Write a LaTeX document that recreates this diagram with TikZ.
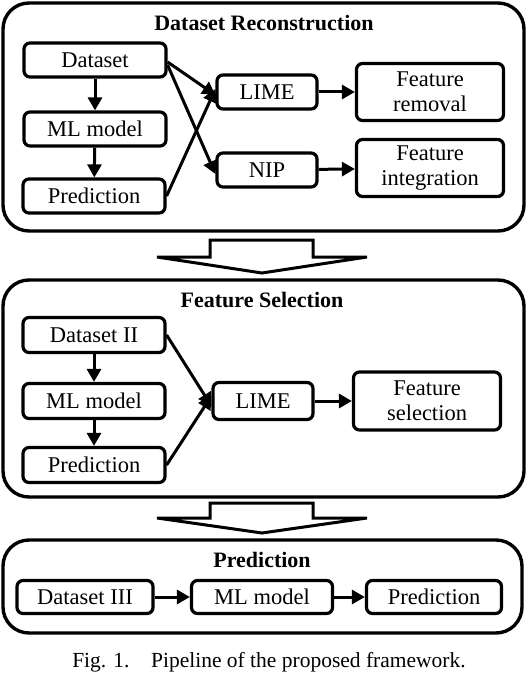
\documentclass[tikz,border=0pt]{standalone}
\usepackage{fontspec}
\setmainfont{Liberation Serif}
\usetikzlibrary{arrows.meta}
\tikzset{
  box/.style={draw, line width=3.2pt, rounded corners=6pt, inner sep=0pt, align=center,
    font=\fontsize{22.5}{25}\selectfont},
  frame/.style={draw, line width=3.4pt, rounded corners=26pt},
  ttl/.style={font=\fontsize{22}{24}\selectfont\bfseries},
  arr/.style={line width=3pt, -{Triangle[length=13pt,width=14pt]}},
  bigarr/.style={draw, line width=3pt, line join=miter}
}
\begin{document}
\begin{tikzpicture}[x=1pt,y=-1pt]
\useasboundingbox (0,0) rectangle (528,674);
% frames
\draw[frame] (3,3) rectangle (524,231);
\draw[frame] (3,280) rectangle (524,497);
\draw[frame] (3,540) rectangle (522,633);
% titles
\node[ttl] (t1) at (264,23) {Dataset Reconstruction};
\node[ttl] (t2) at (262,300) {Feature Selection};
\node[ttl] (t3) at (262,560) {Prediction};
% section 1
\node[box, minimum width=142pt, minimum height=34pt] (d1) at (95,60) {Dataset};
\node[box, minimum width=142pt, minimum height=34pt] (m1) at (95,129) {ML model};
\node[box, minimum width=142pt, minimum height=34pt] (p1) at (94,196) {Prediction};
\node[box, minimum width=100pt, minimum height=34pt] (lime1) at (267,92) {LIME};
\node[box, minimum width=100pt, minimum height=34pt] (nip) at (267,170) {NIP};
\node[box, minimum width=147pt, minimum height=57pt] (fr) at (430,92) {Feature\\removal};
\node[box, minimum width=147pt, minimum height=57pt] (fi) at (430,168) {Feature\\integration};
\draw[arr] (d1) -- (m1);
\draw[arr] (m1) -- (p1);
\draw[arr] (d1.east) ++(0,2) -- ([yshift=-3pt]lime1.west);
\draw[arr] (d1.east) ++(0,5) -- ([yshift=-4pt]nip.west);
\draw[arr] (p1.east) -- ([yshift=3pt]lime1.west);
\draw[arr] (lime1) -- (fr);
\draw[arr] (nip) -- (fi);
% big arrow 1
\draw[bigarr] (210,257) -- (210,240) -- (313,240) -- (313,257) -- (367,257) -- (262,273) -- (157,257) -- cycle;
% section 2
\node[box, minimum width=142pt, minimum height=35pt] (d2) at (94,335) {Dataset II};
\node[box, minimum width=142pt, minimum height=35pt] (m2) at (94,401) {ML model};
\node[box, minimum width=142pt, minimum height=35pt] (p2) at (94,465) {Prediction};
\node[box, minimum width=100pt, minimum height=37pt] (lime2) at (263,401) {LIME};
\node[box, minimum width=147pt, minimum height=58pt] (fs) at (427,401) {Feature\\selection};
\draw[arr] (d2) -- (m2);
\draw[arr] (m2) -- (p2);
\draw[arr] (d2.east) -- ([yshift=-5pt]lime2.west);
\draw[arr] (p2.east) -- ([yshift=5pt]lime2.west);
\draw[arr] (lime2) -- (fs);
% big arrow 2
\draw[bigarr] (210,518) -- (210,503) -- (313,503) -- (313,518) -- (367,518) -- (262,533) -- (157,518) -- cycle;
% section 3
\node[box, minimum width=136pt, minimum height=33pt] (d3) at (85,597) {Dataset III};
\node[box, minimum width=141pt, minimum height=33pt] (m3) at (262,597) {ML model};
\node[box, minimum width=135pt, minimum height=33pt] (p3) at (434,597) {Prediction};
\draw[arr] (d3) -- (m3);
\draw[arr] (m3) -- (p3);
% caption
\node[font=\fontsize{21.5}{23}\selectfont] (cap) at (269,662) {Fig. 1.\quad Pipeline of the proposed framework.};
\end{tikzpicture}
\end{document}
